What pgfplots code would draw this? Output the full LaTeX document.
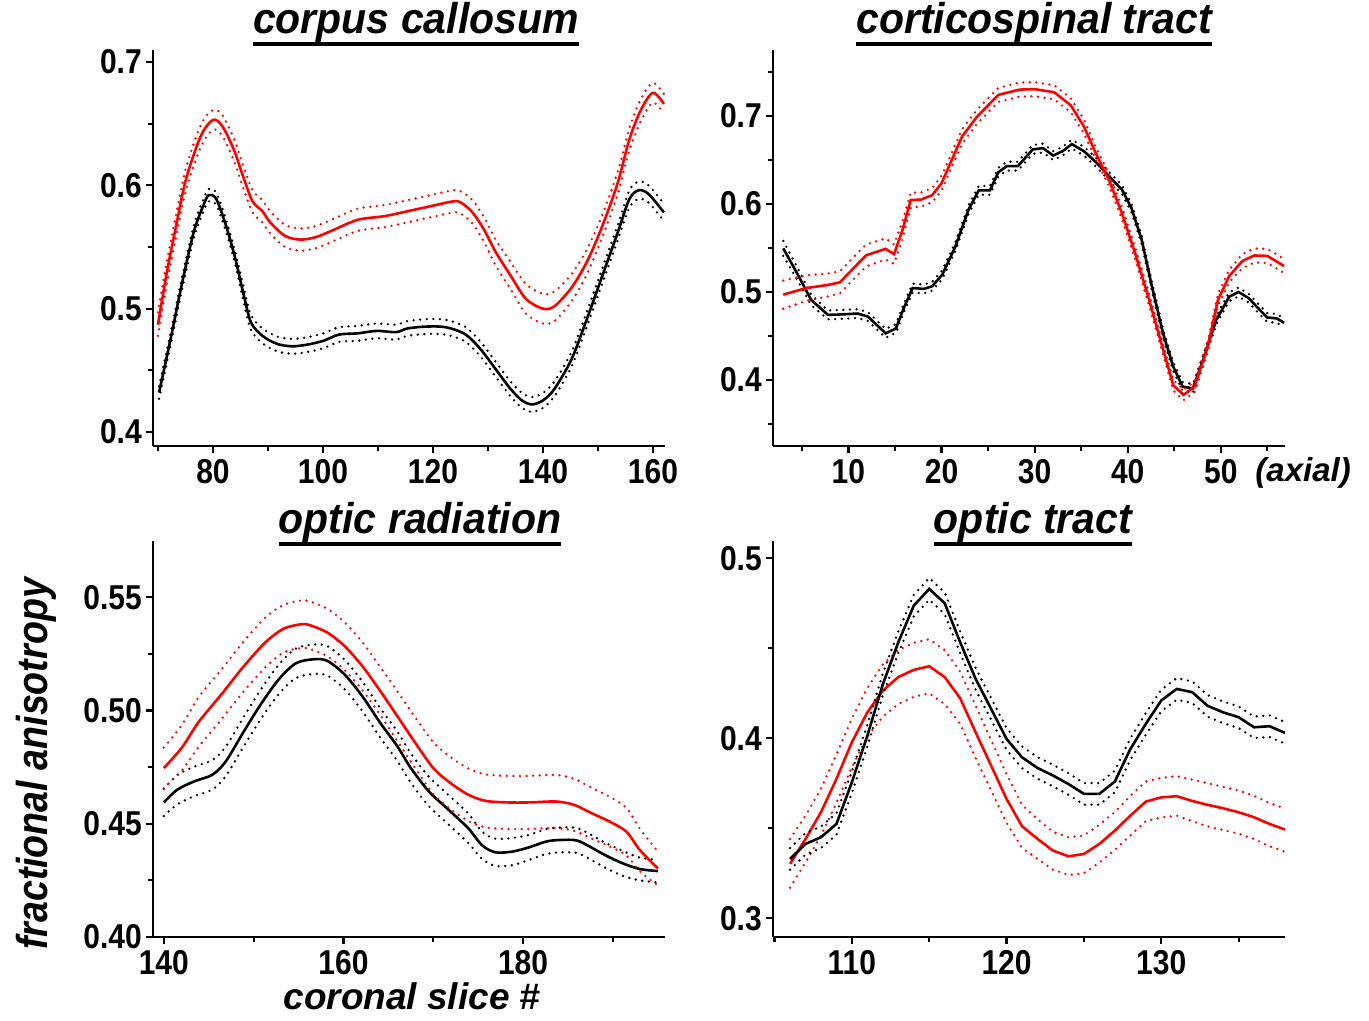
\documentclass[border=0pt]{standalone}
\usepackage{fontspec}
\setmainfont{Liberation Sans}
\usepackage{pgfplots}
\usepackage{pgfplotstable}
\pgfplotsset{compat=1.18}

% underlined panel title
\newcommand\ttl[1]{\sbox0{#1}\usebox0\llap{\rule[-5.8pt]{\wd0}{1.8pt}}}

% ---------- corpus callosum (coronal) ----------
\pgfplotstableread{
x     m      lo     hi
70    0.487  0.478  0.497
71.6  0.529  0.520  0.538
73.3  0.567  0.558  0.576
75.1  0.605  0.596  0.614
77.8  0.640  0.631  0.649
80    0.653  0.645  0.661
81.7  0.648  0.640  0.657
83.8  0.629  0.620  0.638
85.5  0.607  0.598  0.616
87.2  0.587  0.578  0.596
89    0.579  0.570  0.588
90.4  0.570  0.561  0.579
93.1  0.559  0.550  0.568
95.9  0.556  0.547  0.565
98.7  0.558  0.549  0.567
101.5 0.563  0.554  0.572
106.3 0.572  0.563  0.581
111.2 0.575  0.566  0.584
115.4 0.579  0.570  0.588
119.5 0.583  0.574  0.592
123.7 0.587  0.578  0.596
125.1 0.586  0.577  0.595
127.2 0.578  0.569  0.588
129.3 0.564  0.554  0.574
131.4 0.546  0.535  0.556
134.1 0.527  0.516  0.538
136.9 0.508  0.496  0.520
140   0.500  0.488  0.512
142.1 0.502  0.490  0.514
145.2 0.517  0.506  0.528
148   0.538  0.528  0.548
150.8 0.567  0.558  0.576
153.6 0.602  0.593  0.611
155.7 0.637  0.628  0.646
157.8 0.661  0.652  0.670
160   0.675  0.667  0.683
162   0.666  0.658  0.674
}\ccRed

\pgfplotstableread{
x     m      lo     hi
70.2  0.432  0.427  0.437
72.3  0.4755 0.4705 0.4805
74.4  0.521  0.516  0.526
76.5  0.562  0.557  0.567
78.2  0.583  0.578  0.588
79.2  0.592  0.587  0.597
80.6  0.589  0.584  0.594
82.4  0.567  0.562  0.572
84.1  0.540  0.535  0.545
85.5  0.513  0.507  0.519
86.9  0.489  0.483  0.495
89    0.478  0.472  0.484
91.7  0.4714 0.4654 0.4774
94.5  0.4695 0.4635 0.4755
97.3  0.471  0.465  0.477
100.1 0.474  0.468  0.480
102.9 0.479  0.473  0.485
106.3 0.480  0.474  0.486
109.8 0.482  0.476  0.488
113.3 0.481  0.475  0.487
115.4 0.484  0.478  0.490
118.8 0.4855 0.4795 0.4915
122.3 0.485  0.479  0.491
125.8 0.4795 0.4735 0.4855
128.6 0.4675 0.4615 0.4735
131.4 0.451  0.445  0.457
134.1 0.435  0.429  0.441
136.2 0.4256 0.4196 0.4316
138   0.4224 0.4164 0.4284
140   0.4256 0.4196 0.4316
142.1 0.435  0.429  0.441
145.2 0.459  0.453  0.465
148   0.4917 0.4857 0.4977
150.8 0.5267 0.5207 0.5327
153.6 0.5617 0.5557 0.5677
155.7 0.5887 0.5817 0.5957
157.4 0.596  0.589  0.603
159.2 0.593  0.586  0.600
162   0.578  0.571  0.585
}\ccBlack

% ---------- corticospinal tract (axial) ----------
\pgfplotstableread{
x     m      lo     hi
3     0.497  0.481  0.513
5.5   0.5045 0.490  0.519
7.8   0.508  0.495  0.521
9.1   0.511  0.4985 0.5235
10.5  0.5265 0.514  0.539
11.9  0.5417 0.529  0.554
14    0.549  0.537  0.561
14.9  0.543  0.532  0.554
15.8  0.570  0.560  0.580
16.7  0.6045 0.596  0.613
17.8  0.605  0.597  0.613
19    0.610  0.602  0.618
20    0.6235 0.615  0.632
21.1  0.650  0.642  0.658
22.2  0.6765 0.668  0.685
23.8  0.699  0.691  0.707
26.1  0.724  0.716  0.732
28.4  0.730  0.722  0.738
30    0.7305 0.7225 0.7385
32.1  0.727  0.719  0.735
33.9  0.712  0.704  0.720
35.3  0.688  0.680  0.696
36.6  0.657  0.650  0.664
38    0.627  0.620  0.634
39.4  0.589  0.582  0.596
40.8  0.544  0.537  0.551
42.2  0.495  0.488  0.502
43.5  0.446  0.440  0.452
44.9  0.394  0.388  0.400
46    0.383  0.377  0.389
47.2  0.3925 0.3865 0.3985
48.6  0.438  0.432  0.444
49.7  0.491  0.484  0.498
50.9  0.518  0.511  0.525
52.3  0.535  0.527  0.543
53.6  0.5415 0.5335 0.5495
55    0.541  0.533  0.549
56.8  0.5295 0.5215 0.5375
}\ctRed

\pgfplotstableread{
x     m      lo     hi
3     0.5496 0.541  0.558
4.6   0.519  0.512  0.526
6     0.491  0.485  0.497
7.8   0.474  0.469  0.479
9.2   0.4745 0.4695 0.4795
11    0.4755 0.4705 0.4805
12.1  0.472  0.467  0.477
14    0.453  0.448  0.458
15.1  0.4585 0.4535 0.4635
16    0.483  0.478  0.488
16.9  0.5045 0.4995 0.5095
18.1  0.5035 0.4985 0.5085
19    0.5065 0.5015 0.5115
20.1  0.520  0.515  0.525
21.5  0.552  0.547  0.557
22.9  0.5935 0.5885 0.5985
24    0.6155 0.6105 0.6205
25.2  0.6155 0.6105 0.6205
26.1  0.636  0.631  0.641
27    0.643  0.638  0.648
28.2  0.643  0.638  0.648
29.8  0.662  0.657  0.667
30.9  0.6635 0.6585 0.6685
32    0.655  0.650  0.660
33    0.660  0.655  0.665
34    0.668  0.663  0.673
35.3  0.660  0.655  0.665
36.7  0.6465 0.6415 0.6515
38    0.6315 0.6265 0.6365
39.4  0.616  0.611  0.621
40.4  0.5955 0.5905 0.6005
41.5  0.5595 0.5545 0.5645
42.6  0.5065 0.5015 0.5115
43.8  0.453  0.448  0.458
44.9  0.415  0.410  0.420
45.9  0.3925 0.3875 0.3975
47    0.3905 0.3855 0.3955
48.1  0.4225 0.4175 0.4275
49.5  0.468  0.463  0.473
50.9  0.4945 0.4895 0.4995
51.9  0.500  0.495  0.505
53    0.493  0.488  0.498
54.2  0.4795 0.4745 0.4845
55    0.471  0.466  0.476
56    0.470  0.465  0.475
56.8  0.465  0.460  0.470
}\ctBlack

% ---------- optic radiation (coronal) ----------
\pgfplotstableread{
x     m      lo     hi
140   0.4746 0.4656 0.4836
142   0.4835 0.4735 0.4935
143.9 0.495  0.484  0.506
146.4 0.507  0.496  0.518
148.8 0.519  0.508  0.530
151.3 0.530  0.519  0.541
153.3 0.536  0.5255 0.5465
155.2 0.538  0.5275 0.5485
156.2 0.5377 0.5272 0.5482
158.2 0.5344 0.5239 0.5449
160.1 0.5285 0.518  0.539
162.1 0.5196 0.509  0.5302
164.1 0.5086 0.498  0.5192
166   0.4975 0.4865 0.5085
168   0.4857 0.4745 0.4969
170   0.4746 0.4632 0.486
171.9 0.468  0.4565 0.4795
173.9 0.4628 0.4512 0.4744
175.8 0.4601 0.4484 0.4718
178.3 0.4594 0.4477 0.4711
180.7 0.4594 0.4477 0.4711
183.7 0.4598 0.4481 0.4715
185.7 0.4583 0.4468 0.4698
187.6 0.4547 0.4435 0.4659
189.6 0.451  0.440  0.462
191.5 0.4465 0.436  0.457
193   0.4384 0.429  0.4478
195   0.4303 0.4228 0.4378
}\orRed

\pgfplotstableread{
x     m      lo     hi
140   0.4594 0.4534 0.4654
141.5 0.465  0.4585 0.4715
143.4 0.4687 0.4622 0.4752
145.4 0.4716 0.4651 0.4781
146.9 0.4775 0.471  0.484
148.8 0.490  0.4835 0.4965
150.8 0.5027 0.4962 0.5092
152.8 0.5137 0.5072 0.5202
154.7 0.5208 0.5143 0.5273
156.7 0.5226 0.5161 0.5291
158.2 0.5219 0.5154 0.5284
160.1 0.516  0.5095 0.5225
162.1 0.5063 0.4998 0.5128
164.1 0.4945 0.488  0.501
166   0.4842 0.4777 0.4907
167.5 0.4746 0.4681 0.4811
169.5 0.4643 0.4578 0.4708
171.5 0.4569 0.4504 0.4634
173.9 0.448  0.4415 0.4545
175.4 0.4406 0.4346 0.4466
176.9 0.4374 0.4314 0.4434
178.8 0.4377 0.4317 0.4437
180.7 0.4396 0.4341 0.4451
182.9 0.4424 0.4369 0.4479
185.7 0.4428 0.4373 0.4483
187.1 0.4406 0.4351 0.4461
189.1 0.4362 0.4307 0.4417
191.1 0.4325 0.427  0.438
193   0.430  0.425  0.435
195   0.4291 0.4241 0.4341
}\orBlack

% ---------- optic tract (coronal) ----------
\pgfplotstableread{
x    m      lo     hi
106  0.3302 0.317  0.344
107  0.344  0.331  0.357
108  0.3589 0.346  0.372
109  0.3774 0.364  0.391
110  0.3978 0.384  0.411
111  0.4144 0.401  0.428
112  0.4265 0.412  0.441
113  0.434  0.419  0.449
114  0.438  0.423  0.453
115  0.440  0.425  0.455
116  0.434  0.419  0.449
117  0.4222 0.408  0.437
118  0.4033 0.389  0.418
119  0.3848 0.371  0.399
120  0.3663 0.353  0.380
121  0.3511 0.339  0.363
122  0.3441 0.333  0.355
123  0.3376 0.327  0.348
124  0.3344 0.324  0.345
125  0.3357 0.325  0.346
126  0.3413 0.331  0.352
127  0.3487 0.338  0.359
128  0.357  0.346  0.368
129  0.3648 0.354  0.376
130  0.3672 0.356  0.378
131  0.3678 0.357  0.379
132  0.3652 0.354  0.377
133  0.363  0.351  0.375
134  0.3611 0.349  0.373
135  0.3589 0.347  0.371
136  0.3561 0.344  0.368
137  0.3524 0.340  0.364
138  0.3493 0.337  0.361
}\otRed

\pgfplotstableread{
x    m      lo     hi
106  0.333  0.327  0.339
107  0.3413 0.3353 0.3473
108  0.345  0.339  0.351
109  0.3524 0.3464 0.3584
110  0.3756 0.3696 0.3816
111  0.4015 0.3955 0.4075
112  0.430  0.424  0.436
113  0.4533 0.4473 0.4593
114  0.4737 0.4677 0.4797
115  0.483  0.477  0.489
116  0.475  0.469  0.481
117  0.4533 0.4473 0.4593
118  0.433  0.427  0.439
119  0.4163 0.4103 0.4223
120  0.3996 0.3936 0.4056
121  0.3894 0.3834 0.3954
122  0.3835 0.3775 0.3895
123  0.3793 0.3733 0.3853
124  0.3746 0.3686 0.3806
125  0.3691 0.3631 0.3751
126  0.3691 0.3631 0.3751
127  0.376  0.370  0.382
128  0.394  0.388  0.400
129  0.408  0.402  0.414
130  0.421  0.415  0.427
131  0.4274 0.4214 0.4334
132  0.4256 0.4196 0.4316
133  0.418  0.412  0.424
134  0.4144 0.4084 0.4204
135  0.4117 0.4057 0.4177
136  0.4061 0.4001 0.4121
137  0.4067 0.4007 0.4127
138  0.403  0.397  0.409
}\otBlack

\pgfplotsset{
  panel/.style={
    scale only axis, width=256pt, height=198pt,
    anchor=south west,
    axis x line*=bottom, axis y line*=left,
    axis line style={line width=1.1pt, -},
    tick align=outside,
    tick style={line width=1.1pt, black},
    major tick length=3.6pt, minor tick length=2.6pt,
    ticklabel style={font=\bfseries\fontsize{15}{15}\selectfont, yscale=1.15},
    xticklabel style={yshift=1pt},
    yticklabel style={xshift=1.5pt},
    /pgf/number format/assume math mode=true,
    scaled ticks=false,
  },
  mean/.style={line width=1.3pt},
  band/.style={line width=1.3pt, dash pattern=on 0pt off 3.3pt, line cap=round},
}

\begin{document}
\begin{tikzpicture}
\useasboundingbox (0,0) rectangle (684.5pt,510.5pt);

% corpus callosum
\begin{axis}[panel, at={(76.5pt,287.5pt)},
  xmin=69.1, xmax=162.2, ymin=0.3887, ymax=0.7097,
  xtick={80,100,120,140,160}, minor xtick={70,90,110,130,150},
  ytick={0.4,0.5,0.6,0.7}, minor ytick={0.45,0.55,0.65},
  yticklabel style={/pgf/number format/.cd, fixed, fixed zerofill, precision=1}]
  \addplot[band, black, smooth] table[x=x, y=lo] {\ccBlack};
  \addplot[band, black, smooth] table[x=x, y=hi] {\ccBlack};
  \addplot[mean, black, smooth] table[x=x, y=m] {\ccBlack};
  \addplot[band, red, smooth] table[x=x, y=lo] {\ccRed};
  \addplot[band, red, smooth] table[x=x, y=hi] {\ccRed};
  \addplot[mean, red, smooth] table[x=x, y=m] {\ccRed};
\end{axis}

% corticospinal tract
\begin{axis}[panel, at={(386.5pt,287.5pt)},
  xmin=1.9, xmax=56.9, ymin=0.325, ymax=0.775,
  xtick={10,20,30,40,50}, minor xtick={5,15,25,35,45,55},
  ytick={0.4,0.5,0.6,0.7}, minor ytick={0.35,0.45,0.55,0.65,0.75},
  yticklabel style={/pgf/number format/.cd, fixed, fixed zerofill, precision=1}]
  \addplot[band, black] table[x=x, y=lo] {\ctBlack};
  \addplot[band, black] table[x=x, y=hi] {\ctBlack};
  \addplot[mean, black] table[x=x, y=m] {\ctBlack};
  \addplot[band, red] table[x=x, y=lo] {\ctRed};
  \addplot[band, red] table[x=x, y=hi] {\ctRed};
  \addplot[mean, red] table[x=x, y=m] {\ctRed};
\end{axis}

% optic radiation
\begin{axis}[panel, at={(76.5pt,42pt)},
  xmin=138.8, xmax=195.8, ymin=0.40, ymax=0.5748,
  xtick={140,160,180}, minor xtick={150,170,190},
  ytick={0.40,0.45,0.50,0.55}, minor ytick={0.425,0.475,0.525},
  yticklabel style={/pgf/number format/.cd, fixed, fixed zerofill, precision=2}]
  \addplot[band, black, smooth] table[x=x, y=lo] {\orBlack};
  \addplot[band, black, smooth] table[x=x, y=hi] {\orBlack};
  \addplot[mean, black, smooth] table[x=x, y=m] {\orBlack};
  \addplot[band, red, smooth] table[x=x, y=lo] {\orRed};
  \addplot[band, red, smooth] table[x=x, y=hi] {\orRed};
  \addplot[mean, red, smooth] table[x=x, y=m] {\orRed};
\end{axis}

% optic tract
\begin{axis}[panel, at={(386.5pt,42pt)},
  xmin=104.9, xmax=138, ymin=0.2896, ymax=0.5096,
  xtick={110,120,130}, minor xtick={105,115,125,135},
  ytick={0.3,0.4,0.5}, minor ytick={0.35,0.45},
  yticklabel style={/pgf/number format/.cd, fixed, fixed zerofill, precision=1}]
  \addplot[band, red] table[x=x, y=lo] {\otRed};
  \addplot[band, red] table[x=x, y=hi] {\otRed};
  \addplot[mean, red] table[x=x, y=m] {\otRed};
  \addplot[band, black] table[x=x, y=lo] {\otBlack};
  \addplot[band, black] table[x=x, y=hi] {\otBlack};
  \addplot[mean, black] table[x=x, y=m] {\otBlack};
\end{axis}

% panel titles
\begin{scope}[every node/.style={anchor=base, inner sep=0pt,
    font=\bfseries\itshape\fontsize{20.5}{20.5}\selectfont, yscale=1.05}]
  \node at (208pt,493.5pt)   {\ttl{corpus callosum}};
  \node at (517pt,493.5pt)   {\ttl{corticospinal tract}};
  \node at (210pt,243.5pt)   {\ttl{optic radiation}};
  \node at (516.5pt,243.5pt) {\ttl{optic tract}};
\end{scope}

% axis labels
\node[anchor=base, rotate=90, yscale=1.15, inner sep=0pt,
  font=\bfseries\itshape\fontsize{18.8}{18.8}\selectfont]
  at (23.5pt,128.5pt) {fractional anisotropy};
\node[anchor=base, inner sep=0pt,
  font=\bfseries\itshape\fontsize{18.5}{18.5}\selectfont]
  at (206pt,5.5pt) {coronal slice \#};
\node[anchor=base west, inner sep=0pt,
  font=\bfseries\itshape\fontsize{16.5}{16.5}\selectfont]
  at (627.5pt,269.5pt) {(axial)};
\end{tikzpicture}
\end{document}
